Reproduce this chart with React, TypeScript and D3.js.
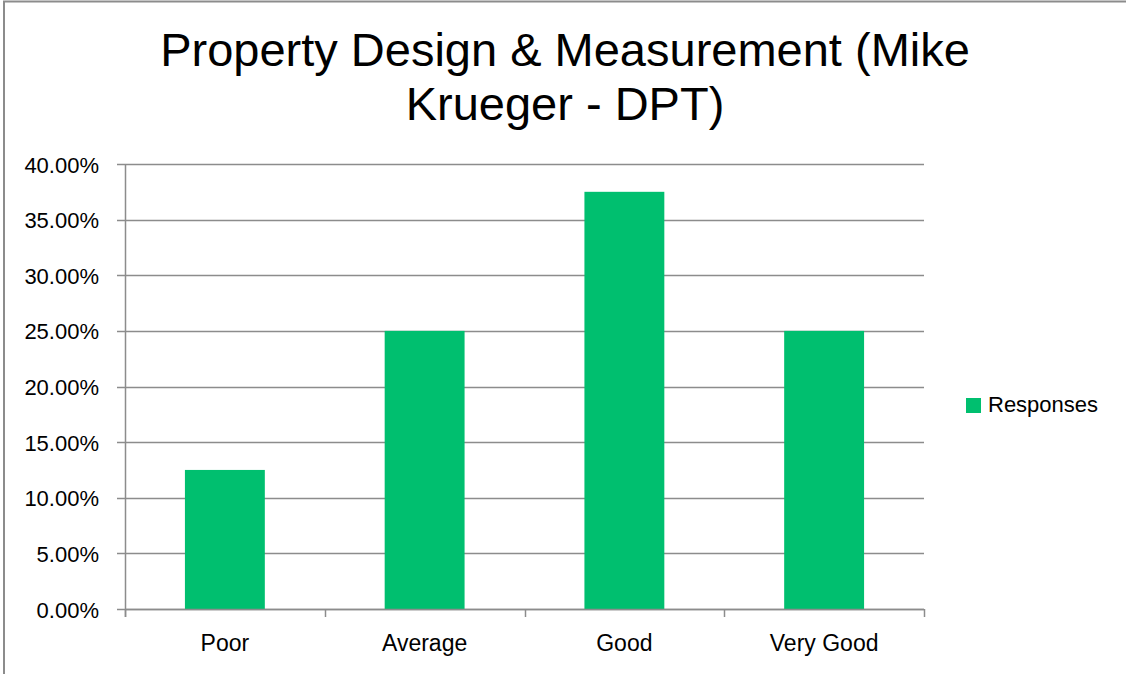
import React, { useEffect, useRef } from 'react';
import * as d3 from 'd3';

// Chart data
const categories = ['Poor', 'Average', 'Good', 'Very Good'];
const responses = [0.125, 0.25, 0.375, 0.25];
const yTicks = [0, 0.05, 0.1, 0.15, 0.2, 0.25, 0.3, 0.35, 0.4];
const titleLines = ['Property Design & Measurement (Mike', 'Krueger - DPT)'];
const seriesName = 'Responses';

const App = () => {
  const svgRef = useRef<SVGSVGElement | null>(null);

  useEffect(() => {
    document.body.style.margin = '0';
    if (!svgRef.current) return;

    const width = 1126;
    const height = 674;
    const plot = { left: 125, right: 924, top: 164, bottom: 609 };
    const barColor = '#00bf6f';
    const lineColor = '#8c8c8c';
    const font = "'Liberation Sans', Arial, sans-serif";

    const svg = d3.select(svgRef.current)
      .attr('width', width)
      .attr('height', height)
      .attr('viewBox', `0 0 ${width} ${height}`);

    svg.selectAll('*').remove();

    svg.append('rect')
      .attr('width', width)
      .attr('height', height)
      .attr('fill', '#ffffff');

    // Chart frame (runs off the right/bottom edges)
    svg.append('path')
      .attr('d', `M4,${height + 5} L4,1.5 L${width + 5},1.5`)
      .attr('fill', 'none')
      .attr('stroke', lineColor)
      .attr('stroke-width', 2);

    // Title
    svg.append('g')
      .selectAll('text')
      .data(titleLines)
      .enter().append('text')
      .attr('x', 565)
      .attr('y', (d, i) => 66 + i * 54)
      .attr('text-anchor', 'middle')
      .attr('fill', '#000')
      .style('font-family', font)
      .style('font-size', '47px')
      .text(d => d);

    const x = d3.scaleBand<string>()
      .domain(categories)
      .range([plot.left, plot.right])
      .paddingInner(0.6)
      .paddingOuter(0.3);

    const y = d3.scaleLinear()
      .domain([0, 0.4])
      .range([plot.bottom, plot.top]);

    const fmt = d3.format('.2%');

    // Gridlines + left ticks
    yTicks.forEach(t => {
      svg.append('line')
        .attr('x1', plot.left - 8)
        .attr('x2', plot.right)
        .attr('y1', Math.round(y(t)) + 0.5)
        .attr('y2', Math.round(y(t)) + 0.5)
        .attr('stroke', lineColor)
        .attr('stroke-width', 1.5);

      svg.append('text')
        .attr('x', 99)
        .attr('y', y(t) + 8.5)
        .attr('text-anchor', 'end')
        .attr('fill', '#000')
        .style('font-family', font)
        .style('font-size', '22px')
        .text(fmt(t));
    });

    // Bars
    svg.append('g')
      .selectAll('rect')
      .data(responses)
      .enter().append('rect')
      .attr('x', (d, i) => x(categories[i])!)
      .attr('y', d => y(d))
      .attr('width', x.bandwidth())
      .attr('height', d => y(0) - y(d))
      .attr('fill', barColor);

    // Y axis line
    svg.append('line')
      .attr('x1', plot.left + 0.5)
      .attr('x2', plot.left + 0.5)
      .attr('y1', plot.top)
      .attr('y2', plot.bottom + 8)
      .attr('stroke', lineColor)
      .attr('stroke-width', 1.5);

    // X axis line
    svg.append('line')
      .attr('x1', plot.left)
      .attr('x2', plot.right)
      .attr('y1', plot.bottom + 0.5)
      .attr('y2', plot.bottom + 0.5)
      .attr('stroke', lineColor)
      .attr('stroke-width', 1.5);

    // Category boundary ticks
    d3.range(categories.length + 1).forEach(i => {
      const bx = plot.left + i * x.step();
      svg.append('line')
        .attr('x1', Math.round(bx) + 0.5)
        .attr('x2', Math.round(bx) + 0.5)
        .attr('y1', plot.bottom)
        .attr('y2', plot.bottom + 8)
        .attr('stroke', lineColor)
        .attr('stroke-width', 1.5);
    });

    // Category labels
    svg.append('g')
      .selectAll('text')
      .data(categories)
      .enter().append('text')
      .attr('x', d => x(d)! + x.bandwidth() / 2)
      .attr('y', 651)
      .attr('text-anchor', 'middle')
      .attr('fill', '#000')
      .style('font-family', font)
      .style('font-size', '23px')
      .text(d => d);

    // Legend
    svg.append('rect')
      .attr('x', 966)
      .attr('y', 398)
      .attr('width', 15)
      .attr('height', 15)
      .attr('fill', barColor);

    svg.append('text')
      .attr('x', 988)
      .attr('y', 412)
      .attr('fill', '#000')
      .style('font-family', font)
      .style('font-size', '22px')
      .text(seriesName);
  }, []);

  return (
    <div style={{ width: 1126, height: 674 }}>
      <svg ref={svgRef} style={{ display: 'block' }}></svg>
    </div>
  );
};

export default App;
